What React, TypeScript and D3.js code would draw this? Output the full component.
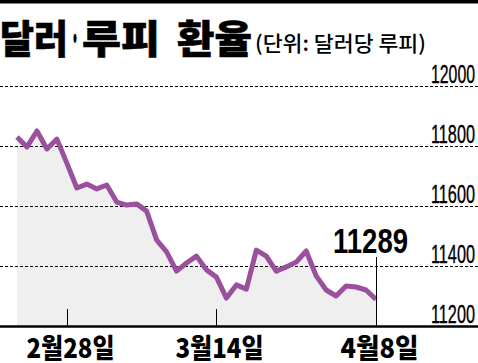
import React, { useEffect, useRef } from "react";
import * as d3 from "d3";

// 달러·루피 환율 (daily closes)
const rates: number[] = [
  11830, 11797, 11850, 11790, 11823, 11743, 11660, 11673, 11657, 11670,
  11613, 11603, 11607, 11583, 11487, 11447, 11383, 11410, 11433, 11387,
  11363, 11293, 11337, 11323, 11453, 11433, 11383, 11397, 11413, 11450,
  11367, 11320, 11300, 11333, 11330, 11320, 11289,
];

const tickLabels: string[] = ["2월28일", "3월14일", "4월8일"];
const tickIndex: number[] = [5, 20, 36];
const yTicks: number[] = [11200, 11400, 11600, 11800, 12000];

const WIDTH = 478;
const HEIGHT = 363;
const KR = "'Noto Sans CJK KR', 'Noto Sans', sans-serif";
const NUM = "'Liberation Sans', Arial, sans-serif";

const App: React.FC = () => {
  const svgRef = useRef<SVGSVGElement | null>(null);

  useEffect(() => {
    if (!svgRef.current) return;
    const svg = d3.select(svgRef.current);
    svg.selectAll("*").remove();

    const x = d3.scaleLinear().domain([0, rates.length - 1]).range([17, 376]);
    const y = d3.scaleLinear().domain([11200, 12000]).range([326, 86]);

    svg.append("rect").attr("width", WIDTH).attr("height", HEIGHT).attr("fill", "#fff");

    // top rule
    svg.append("rect").attr("x", 0).attr("y", 0).attr("width", WIDTH).attr("height", 3.5).attr("fill", "#000");

    // title, set in pieces so the middle dot stays narrow
    const titleParts: [string, number, number][] = [
      ["달러", 0, 68],
      ["·", 71, 8],
      ["루피", 82, 78],
      ["환율", 177, 75],
    ];
    titleParts.forEach(([s, px, w]) => {
      svg.append("text")
        .attr("x", px).attr("y", 53)
        .attr("font-family", KR).attr("font-weight", 900).attr("font-size", 39)
        .attr("stroke", "#000").attr("stroke-width", 0.6)
        .attr("textLength", w).attr("lengthAdjust", "spacingAndGlyphs")
        .text(s);
    });

    svg.append("text")
      .attr("x", 255).attr("y", 51)
      .attr("font-family", KR).attr("font-weight", 500).attr("font-size", 21)
      .attr("textLength", 171).attr("lengthAdjust", "spacingAndGlyphs")
      .text("(단위: 달러당 루피)");

    // area under line
    const area = d3.area<number>()
      .x((_, i) => x(i))
      .y0(y(11200))
      .y1(d => y(d));
    svg.append("path").datum(rates).attr("d", area).attr("fill", "#efefef");

    // dashed grid + y labels
    const grid = svg.append("g");
    yTicks.filter(t => t > 11200).forEach(t => {
      grid.append("line")
        .attr("x1", 0).attr("x2", WIDTH)
        .attr("y1", Math.round(y(t)) + 0.5).attr("y2", Math.round(y(t)) + 0.5)
        .attr("stroke", "#000").attr("stroke-width", 1)
        .attr("stroke-dasharray", "3,2");
    });
    yTicks.forEach(t => {
      grid.append("text")
        .attr("x", 475).attr("y", y(t) - 3)
        .attr("text-anchor", "end")
        .attr("font-family", NUM).attr("font-size", 25)
        .attr("stroke", "#000").attr("stroke-width", 0.35)
        .attr("textLength", 44).attr("lengthAdjust", "spacingAndGlyphs")
        .text(t);
    });

    // line
    const line = d3.line<number>().x((_, i) => x(i)).y(d => y(d));
    svg.append("path").datum(rates)
      .attr("d", line)
      .attr("fill", "none")
      .attr("stroke", "#9a509c")
      .attr("stroke-width", 5)
      .attr("stroke-linejoin", "round");

    // x ticks
    const last = rates.length - 1;
    tickIndex.forEach((ti, k) => {
      const tx = Math.round(x(ti)) + 0.5;
      svg.append("line")
        .attr("x1", tx).attr("x2", tx)
        .attr("y1", ti === last ? 257 : 309).attr("y2", 326)
        .attr("stroke", "#000").attr("stroke-width", 1);
      svg.append("text")
        .attr("x", tx + 3).attr("y", 358)
        .attr("text-anchor", "middle")
        .attr("font-family", KR).attr("font-weight", 900).attr("font-size", 27)
        .attr("textLength", tickLabels[k].length > 4 ? 88 : 78)
        .attr("lengthAdjust", "spacingAndGlyphs")
        .text(tickLabels[k]);
    });

    // last value label
    svg.append("text")
      .attr("x", 408).attr("y", 253)
      .attr("text-anchor", "end")
      .attr("font-family", NUM).attr("font-weight", 700).attr("font-size", 35)
      .attr("textLength", 75).attr("lengthAdjust", "spacingAndGlyphs")
      .text(d3.format("d")(rates[last]));

    // baseline
    svg.append("line")
      .attr("x1", 0).attr("x2", WIDTH)
      .attr("y1", 326.5).attr("y2", 326.5)
      .attr("stroke", "#000").attr("stroke-width", 2.5);
  }, []);

  return (
    <svg
      ref={svgRef}
      width={WIDTH}
      height={HEIGHT}
      style={{ position: "absolute", left: 0, top: 0, display: "block" }}
    />
  );
};

export default App;
